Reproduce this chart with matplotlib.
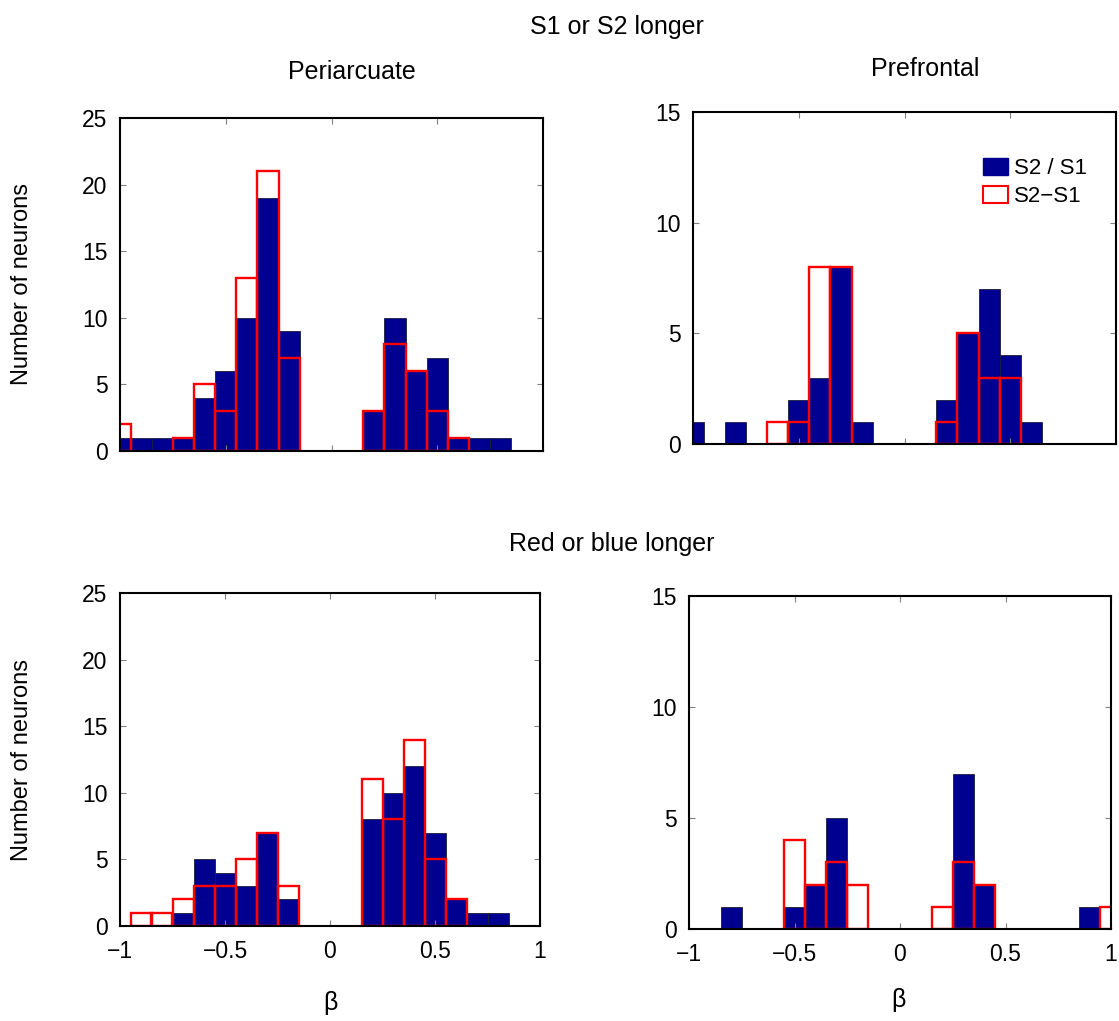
import numpy as np
import matplotlib
matplotlib.use('Agg')
import matplotlib.pyplot as plt
from matplotlib.patches import Patch

plt.rcParams['font.family'] = ['Liberation Sans', 'DejaVu Sans']

# bin centres (bin width 0.1)
bin_centers = [-1.0, -0.9, -0.8, -0.7, -0.6, -0.5, -0.4, -0.3, -0.2, -0.1, 0.0,
               0.1, 0.2, 0.3, 0.4, 0.5, 0.6, 0.7, 0.8, 0.9, 1.0]

# S1 or S2 longer
peri_s_ratio = [1, 1, 1, 1, 4, 6, 10, 19, 9, 0, 0, 0, 3, 10, 6, 7, 1, 1, 1, 0, 0]
peri_s_diff  = [2, 0, 0, 1, 5, 3, 13, 21, 7, 0, 0, 0, 3, 8, 6, 3, 1, 0, 0, 0, 0]
pref_s_ratio = [1, 0, 1, 0, 0, 2, 3, 8, 1, 0, 0, 0, 2, 5, 7, 4, 1, 0, 0, 0, 0]
pref_s_diff  = [0, 0, 0, 0, 1, 1, 8, 8, 0, 0, 0, 0, 1, 5, 3, 3, 0, 0, 0, 0, 0]

# Red or blue longer
peri_c_ratio = [0, 0, 0, 1, 5, 4, 3, 7, 2, 0, 0, 0, 8, 10, 12, 7, 2, 1, 1, 0, 0]
peri_c_diff  = [0, 1, 1, 2, 3, 3, 5, 7, 3, 0, 0, 0, 11, 8, 14, 5, 2, 0, 0, 0, 0]
pref_c_ratio = [0, 0, 1, 0, 0, 1, 2, 5, 0, 0, 0, 0, 0, 7, 2, 0, 0, 0, 0, 1, 0]
pref_c_diff  = [0, 0, 0, 0, 0, 4, 2, 3, 2, 0, 0, 0, 1, 3, 2, 0, 0, 0, 0, 0, 1]

navy = '#000090'
W, H = 1119, 1021

fig = plt.figure(figsize=(W / 100, H / 100), dpi=100)


def px_axes(x0, y0, x1, y1):
    return fig.add_axes([x0 / W, 1 - y1 / H, (x1 - x0) / W, (y1 - y0) / H])


def hist_panel(ax, blue, red, ymax, xlabels):
    c = np.array(bin_centers)
    b = np.array(blue)
    r = np.array(red)
    ax.bar(c[b > 0], b[b > 0], width=0.1, color=navy, edgecolor='#1c1c3a', linewidth=0.6)
    ax.bar(c[r > 0], r[r > 0], width=0.1, fill=False, edgecolor='red', linewidth=1.7)
    ax.set_xlim(-1, 1)
    ax.set_ylim(0, ymax)
    ax.set_xticks([-1, -0.5, 0, 0.5, 1])
    ax.set_xticklabels(['\u22121', '\u22120.5', '0', '0.5', '1'])
    ax.set_yticks(np.arange(0, ymax + 1, 5))
    ax.tick_params(direction='in', top=True, right=True, length=4, color='gray',
                   labelsize=16.5, labelbottom=xlabels)
    ax.tick_params(axis='y', pad=9)
    ax.tick_params(axis='x', pad=10)
    for s in ax.spines.values():
        s.set_linewidth(1.5)


ax1 = px_axes(120, 118, 543, 451)
hist_panel(ax1, peri_s_ratio, peri_s_diff, 25, False)
ax2 = px_axes(693, 112, 1116, 444)
hist_panel(ax2, pref_s_ratio, pref_s_diff, 15, False)
ax3 = px_axes(120, 593, 540, 926)
hist_panel(ax3, peri_c_ratio, peri_c_diff, 25, True)
ax4 = px_axes(689, 596, 1111, 929)
hist_panel(ax4, pref_c_ratio, pref_c_diff, 15, True)

handles = [Patch(facecolor=navy, edgecolor=navy), Patch(facecolor='white', edgecolor='red', linewidth=1.5)]
ax2.legend(handles, ['S2 / S1', 'S2\u2212S1'], loc='upper left', bbox_to_anchor=(0.686, 0.862),
           frameon=False, fontsize=16, borderaxespad=0, borderpad=0,
           handlelength=1.1, handleheight=0.8, handletextpad=0.3, labelspacing=0.3)

fig.text(617 / W, 1 - 27 / H, 'S1 or S2 longer', ha='center', va='center', fontsize=18)
fig.text(352 / W, 1 - 72 / H, 'Periarcuate', ha='center', va='center', fontsize=18)
fig.text(925 / W, 1 - 69 / H, 'Prefrontal', ha='center', va='center', fontsize=18)
fig.text(612 / W, 1 - 544 / H, 'Red or blue longer', ha='center', va='center', fontsize=18)
fig.text(22 / W, 1 - 284 / H, 'Number of neurons', ha='center', va='center', rotation=90, fontsize=17)
fig.text(22 / W, 1 - 760 / H, 'Number of neurons', ha='center', va='center', rotation=90, fontsize=17)
fig.text(330 / W, 1 - 1003 / H, '\u03b2', ha='center', va='center', fontsize=18)
fig.text(898 / W, 1 - 1000 / H, '\u03b2', ha='center', va='center', fontsize=18)

fig.savefig('out.png', dpi=100)
